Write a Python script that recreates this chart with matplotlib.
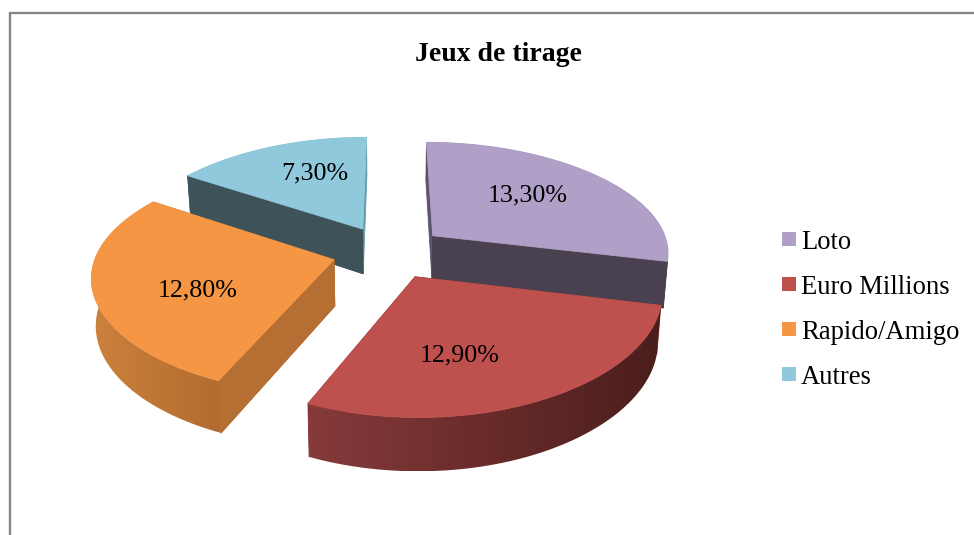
import numpy as np
import matplotlib
matplotlib.use("Agg")
import matplotlib.pyplot as plt
from matplotlib.patches import Polygon, Rectangle
from matplotlib.colors import to_rgb

plt.rcParams['font.family'] = ['Liberation Serif', 'DejaVu Serif']

title = "Jeux de tirage"
categories = ["Loto", "Euro Millions", "Rapido/Amigo", "Autres"]
values = [13.3, 12.9, 12.8, 7.3]
labels = ["13,30%", "12,90%", "12,80%", "7,30%"]

colors = ["#B09FC6", "#BE504E", "#F59645", "#91C9DC"]
# parois planes (debut, fin) et degrade de la paroi exterieure (gauche, droite)
wall_start = ["#5F5370", "#7F3735", "#B56F33", "#3D5259"]
wall_end = ["#4A4150", "#7F3735", "#A8682F", "#5F9CAF"]
outer_left = ["#5C5068", "#873A3A", "#CC823D", "#5F9CAF"]
outer_right = ["#5C5068", "#4A1E1C", "#B26B30", "#5F9CAF"]
front_wall = ["end", None, "start", "start"]
label_pos = [(528, 195), (460, 355), (198, 290), (315, 173)]
draw_order = [3, 0, 2, 1]

# vue 3D
cx, cy = 389, 252
R = 237
Rt = 111.7
persp_x = 0.14
persp_y = 0.148
explode = 0.24
depth = 46


def project(u, v, low=False):
    s = 1 - persp_x * v
    x = cx + R * u * s
    y = cy - Rt * v / (1 + persp_y * v)
    if low:
        x = cx + (x - cx) * 0.985
        y = y + depth * s
    return x, y


fig = plt.figure(figsize=(9.74, 5.35), dpi=100)
ax = fig.add_axes([0, 0, 1, 1])
ax.axis("off")

z = 1


def add_poly(pts, color):
    global z
    ax.add_patch(Polygon(pts, closed=True, facecolor=color, edgecolor=color, lw=0.6, zorder=z))
    z += 1


def flat_wall(a, b, color):
    add_poly([project(*a), project(*b), project(*b, low=True), project(*a, low=True)], color)


# cadre
ax.plot([10, 10, 974], [535, 13, 13], color="#868686", lw=1.7, solid_joinstyle="miter")

fractions = np.array(values) / sum(values)
ends = 90 - np.cumsum(fractions) * 360
starts = np.concatenate(([90], ends[:-1]))

for i in draw_order:
    th = np.radians(np.linspace(starts[i], ends[i], 120))
    mid = np.radians((starts[i] + ends[i]) / 2)
    ox, oy = explode * np.cos(mid), explode * np.sin(mid)
    us = ox + np.cos(th)
    vs = oy + np.sin(th)

    flat_wall((ox, oy), (us[0], vs[0]), wall_start[i])
    flat_wall((ox, oy), (us[-1], vs[-1]), wall_end[i])

    # paroi exterieure avec degrade
    up = [project(a, b) for a, b in zip(us, vs)]
    low = [project(a, b, low=True) for a, b in zip(us, vs)]
    outline = np.array(up + low[::-1])
    x0, x1 = outline[:, 0].min(), outline[:, 0].max()
    y0, y1 = outline[:, 1].min(), outline[:, 1].max()
    f = np.linspace(0, 1, 256)[None, :, None]
    grad = np.array(to_rgb(outer_left[i]))[None, None, :] * (1 - f) + np.array(to_rgb(outer_right[i]))[None, None, :] * f
    im = ax.imshow(grad, extent=(x0, x1, y1, y0), aspect="auto", zorder=z, interpolation="bilinear")
    clip = Polygon(outline, closed=True, facecolor="none", edgecolor="none", transform=ax.transData)
    im.set_clip_path(clip)
    z += 1

    # la paroi plane tournee vers nous passe devant
    if front_wall[i] == "start":
        flat_wall((ox, oy), (us[0], vs[0]), wall_start[i])
    elif front_wall[i] == "end":
        flat_wall((ox, oy), (us[-1], vs[-1]), wall_end[i])

    add_poly([project(ox, oy)] + up, colors[i])

ax.set_xlim(0, 974)
ax.set_ylim(535, 0)

for (x, y), lab in zip(label_pos, labels):
    ax.text(x, y, lab, ha="center", va="center", fontsize=18.7, color="black", zorder=z)

ax.text(498, 54.5, title, ha="center", va="center", fontsize=20, fontweight="bold", color="black")

# legende
for i, cat in enumerate(categories):
    yc = 240 + i * 45
    ax.add_patch(Rectangle((782, yc - 8), 14, 14, facecolor=colors[i], edgecolor="none"))
    ax.text(801, yc + 2.5, cat, ha="left", va="center", fontsize=19.2, color="black")

fig.savefig("out.png", dpi=100, facecolor="white")
